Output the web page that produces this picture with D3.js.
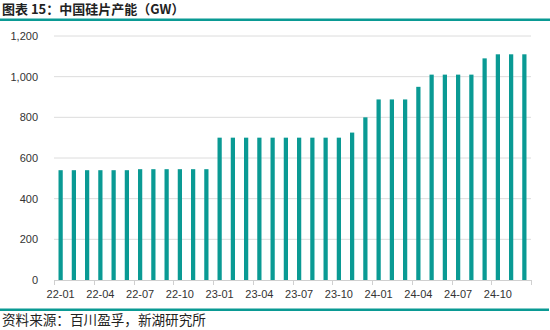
<!DOCTYPE html>
<html>
<head>
<meta charset="utf-8">
<script src="https://cdn.jsdelivr.net/npm/d3@7"></script>
<style>
  body { margin: 0; background: #fff; }
  svg { display: block; }
</style>
</head>
<body>
<div id="chart"></div>
<script>
  // categories (monthly)
  var months = ["22-01","22-02","22-03","22-04","22-05","22-06","22-07","22-08","22-09","22-10","22-11","22-12",
                "23-01","23-02","23-03","23-04","23-05","23-06","23-07","23-08","23-09","23-10","23-11","23-12",
                "24-01","24-02","24-03","24-04","24-05","24-06","24-07","24-08","24-09","24-10","24-11","24-12"];
  // capacity, GW
  var capacity = [540,540,540,540,540,540,545,545,545,545,545,545,
                  700,700,700,700,700,700,700,700,700,700,725,800,
                  888,888,888,950,1010,1010,1010,1010,1090,1110,1110,1110];
  var xTickLabels = ["22-01","22-04","22-07","22-10","23-01","23-04","23-07","23-10","24-01","24-04","24-07","24-10"];
  var yTicks = [0,200,400,600,800,1000,1200];

  var W = 550, H = 330;
  var margin = {top: 36, right: 19, bottom: 50, left: 54};
  var width = W - margin.left - margin.right,
      height = H - margin.top - margin.bottom;

  var teal = "#0a9a94";

  var svg = d3.select("#chart").append("svg")
      .attr("width", W)
      .attr("height", H);

  // title + rules
  svg.append("text")
      .attr("x", 2).attr("y", 14)
      .style("font-family", "'Noto Sans CJK SC', sans-serif")
      .style("font-size", "13px")
      .style("font-weight", "bold")
      .style("fill", "#222")
      .text("图表 15：中国硅片产能（GW）");
  svg.append("rect").attr("x", 0).attr("y", 18.5).attr("width", W).attr("height", 2.5).attr("fill", teal);
  svg.append("rect").attr("x", 0).attr("y", 308.5).attr("width", 549).attr("height", 2.5).attr("fill", teal);
  svg.append("text")
      .attr("x", 2).attr("y", 325)
      .style("font-family", "'Noto Sans CJK SC', sans-serif")
      .style("font-size", "13.6px")
      .style("fill", "#222")
      .text("资料来源：百川盈孚，新湖研究所");

  var g = svg.append("g").attr("transform", "translate(" + margin.left + "," + margin.top + ")");

  var x = d3.scaleBand().domain(months).range([0, width]).paddingInner(0.68).paddingOuter(0.34);
  var y = d3.scaleLinear().domain([0, 1200]).range([height, 0]);

  // gridlines
  g.append("g")
    .selectAll("line")
    .data(yTicks.filter(function(d) { return d > 0; }))
    .enter().append("line")
      .attr("x1", 0).attr("x2", width)
      .attr("y1", function(d) { return y(d); })
      .attr("y2", function(d) { return y(d); })
      .attr("stroke", "#dcdcdc")
      .attr("stroke-width", 1);

  // y labels
  var yAxis = d3.axisLeft(y).tickValues(yTicks).tickSize(0).tickPadding(16).tickFormat(d3.format(","));
  var ya = g.append("g").call(yAxis);
  ya.select(".domain").remove();
  ya.selectAll("text")
    .style("font-family", "'Liberation Sans', Arial, sans-serif")
    .style("font-size", "11px")
    .style("fill", "#333");

  // bars
  g.selectAll(".bar")
    .data(capacity)
    .enter().append("rect")
      .attr("class", "bar")
      .attr("x", function(d, i) { return x(months[i]); })
      .attr("width", x.bandwidth())
      .attr("y", function(d) { return y(d); })
      .attr("height", function(d) { return height - y(d); })
      .attr("fill", teal);

  // x axis
  var step = x.step();
  var xa = g.append("g").attr("transform", "translate(0," + height + ")");
  xa.append("line").attr("x1", 0).attr("x2", width).attr("y1", 0.5).attr("y2", 0.5)
    .attr("stroke", "#d0d0d0");
  var tickPos = d3.range(0, months.length + 1, 3);
  xa.selectAll(".tk")
    .data(tickPos)
    .enter().append("line")
      .attr("class", "tk")
      .attr("x1", function(k) { return Math.round(k * step) + 0.5; })
      .attr("x2", function(k) { return Math.round(k * step) + 0.5; })
      .attr("y1", 0).attr("y2", 5)
      .attr("stroke", "#d0d0d0");
  xa.selectAll(".xl")
    .data(xTickLabels)
    .enter().append("text")
      .attr("class", "xl")
      .attr("x", function(d) { return x(d) + x.bandwidth() / 2; })
      .attr("y", 18)
      .attr("text-anchor", "middle")
      .style("font-family", "'Liberation Sans', Arial, sans-serif")
      .style("font-size", "11px")
      .style("fill", "#333")
      .text(function(d) { return d; });
</script>
</body>
</html>
